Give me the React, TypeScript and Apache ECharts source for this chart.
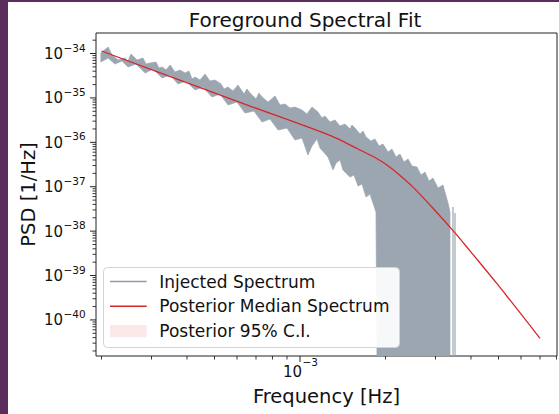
import React, { useEffect, useRef } from "react";
import * as echarts from "echarts";

// ---- axis ranges (Hz, 1/Hz) ----
const xMin = 1.913e-4;
const xMax = 8.035e-3;
const yMin = 1.54e-41;
const yMax = 2.9e-34;

// ---- Injected spectrum: jagged envelope ----
const injectedUpperFreq = [1.99e-4, 2.11e-4, 2.18e-4, 2.287e-4, 2.42e-4, 2.48e-4, 2.54e-4, 2.67e-4, 2.8e-4, 2.869e-4, 2.96e-4, 3.112e-4, 3.188e-4, 3.27e-4, 3.375e-4, 3.49e-4, 3.63e-4, 3.78e-4, 3.936e-4, 4.066e-4, 4.166e-4, 4.27e-4, 4.446e-4, 4.63e-4, 4.822e-4, 5.02e-4, 5.271e-4, 5.401e-4, 5.58e-4, 5.808e-4, 6.05e-4, 6.35e-4, 6.507e-4, 6.67e-4, 7.0e-4, 7.172e-4, 7.35e-4, 7.72e-4, 8.17e-4, 8.504e-4, 8.86e-4, 9.221e-4, 9.6e-4, 1.016e-3, 1.058e-3, 1.102e-3, 1.157e-3, 1.195e-3, 1.225e-3, 1.275e-3, 1.328e-3, 1.383e-3, 1.44e-3, 1.5e-3, 1.524e-3, 1.562e-3, 1.627e-3, 1.667e-3, 1.708e-3, 1.778e-3, 1.836e-3, 1.897e-3, 1.96e-3, 2.041e-3, 2.108e-3, 2.178e-3, 2.249e-3, 2.324e-3, 2.401e-3, 2.48e-3, 2.582e-3, 2.668e-3, 2.755e-3, 2.846e-3, 2.94e-3, 3.061e-3, 3.188e-3, 3.32e-3, 3.374e-3];
const injectedUpperPsd = [1.03e-34, 1.4e-34, 9.25e-35, 7.14e-35, 7.92e-35, 6.78e-35, 9.74e-35, 7.14e-35, 7.92e-35, 5.8e-35, 6.11e-35, 6.44e-35, 4.71e-35, 4.97e-35, 4.25e-35, 5.51e-35, 3.83e-35, 4.25e-35, 3.64e-35, 4.04e-35, 2.67e-35, 2.96e-35, 2.53e-35, 3.45e-35, 2.4e-35, 2.53e-35, 2.06e-35, 1.59e-35, 1.76e-35, 1.43e-35, 1.95e-35, 1.22e-35, 1.59e-35, 1.29e-35, 9.45e-36, 1.29e-35, 1.05e-35, 8.09e-36, 1.1e-35, 6.92e-36, 7.29e-36, 5.92e-36, 6.24e-36, 5.34e-36, 4.34e-36, 6.24e-36, 4.81e-36, 3.53e-36, 3.91e-36, 2.87e-36, 3.18e-36, 2.33e-36, 2.58e-36, 1.99e-36, 2.45e-36, 2.1e-36, 1.54e-36, 1.8e-36, 1.32e-36, 1.07e-36, 1.19e-36, 8.26e-37, 9.16e-37, 6.05e-37, 7.06e-37, 4.67e-37, 5.45e-37, 3.6e-37, 4.21e-37, 2.92e-37, 2.78e-37, 1.83e-37, 2.14e-37, 1.34e-37, 1.57e-37, 9.35e-38, 1.09e-37, 4.3e-38, 2.69e-38];
const injectedLowerFreq = [1.99e-4, 2.11e-4, 2.23e-4, 2.361e-4, 2.48e-4, 2.645e-4, 2.85e-4, 3.037e-4, 3.27e-4, 3.49e-4, 3.72e-4, 3.968e-4, 4.27e-4, 4.555e-4, 4.9e-4, 5.228e-4, 5.58e-4, 6.0e-4, 6.4e-4, 6.887e-4, 7.35e-4, 7.843e-4, 8.37e-4, 9.0e-4, 9.6e-4, 1.016e-3, 1.067e-3, 1.102e-3, 1.148e-3, 1.176e-3, 1.255e-3, 1.307e-3, 1.339e-3, 1.383e-3, 1.417e-3, 1.5e-3, 1.549e-3, 1.601e-3, 1.653e-3, 1.708e-3, 1.764e-3, 1.807e-3, 1.852e-3];
const injectedLowerPsd = [6.44e-35, 7.92e-35, 5.8e-35, 6.78e-35, 4.97e-35, 5.8e-35, 3.64e-35, 4.48e-35, 2.81e-35, 3.28e-35, 2.06e-35, 2.4e-35, 1.51e-35, 1.76e-35, 1.05e-35, 1.22e-35, 6.92e-36, 8.09e-36, 4.57e-36, 5.07e-36, 2.87e-36, 3.35e-36, 1.89e-36, 2.1e-36, 1.13e-36, 1.25e-36, 5.18e-37, 8.26e-37, 1.19e-36, 7.44e-37, 4.67e-37, 2.38e-37, 3.42e-37, 4.0e-37, 2.38e-37, 1.65e-37, 1.83e-37, 1.04e-37, 1.15e-37, 5.86e-38, 6.85e-38, 4.3e-38, 2.69e-38];
// frequency where the spectrum starts dropping to (near) zero
const injectedFloorStartFreq = 1.867e-3;
// isolated thin spikes reaching the bottom
const injectedDropFreq = [3.457e-3, 3.514e-3];
const injectedDropPsd = [3.49e-38, 2.56e-38];

// ---- Posterior median spectrum ----
const medianFreq = [2.0e-4, 4.45e-4, 6.67e-4, 1.0e-3, 1.328e-3, 1.601e-3, 1.836e-3, 2.024e-3, 2.249e-3, 2.48e-3, 2.94e-3, 3.514e-3, 3.968e-3, 4.94e-3, 7.0e-3];
const medianPsd = [1.14e-34, 1.71e-35, 6.57e-36, 2.58e-36, 1.28e-36, 7.06e-37, 4.55e-37, 3.08e-37, 1.8e-37, 1.03e-37, 3.28e-38, 9.16e-39, 3.6e-39, 6.54e-40, 3.85e-41];

// ---- ticks ----
const xMajorTicks = [1e-3];
const xMajorLabels = ["\u22123"];
const yMajorTicks = [1e-34, 1e-35, 1e-36, 1e-37, 1e-38, 1e-39, 1e-40];
const yMajorLabels = ["\u221234", "\u221235", "\u221236", "\u221237", "\u221238", "\u221239", "\u221240"];
const minorMultipliers = [2, 3, 4, 5, 6, 7, 8, 9];
const xDecades = [-4, -3];
const yDecades = [-41, -40, -39, -38, -37, -36, -35, -34];

// ---- texts ----
const titleText = "Foreground Spectral Fit";
const xAxisTitle = "Frequency [Hz]";
const yAxisTitle = "PSD [1/Hz]";
const legendNames = ["Injected Spectrum", "Posterior Median Spectrum", "Posterior 95% C.I."];

const GRAY = "#9ba6b1";
const RED = "#d62728";
const CI_PINK = "#fbe8e9";
const FONT = '"DejaVu Sans", Verdana, sans-serif';

export default function App() {
  const ref = useRef<HTMLDivElement>(null);

  useEffect(() => {
    if (!ref.current) return;
    const chart = echarts.init(ref.current, undefined, { renderer: "svg" });

    const gridLeft = 96, gridTop = 33, gridW = 461, gridH = 323;

    chart.setOption({
      animation: false,
      backgroundColor: "#ffffff",
      grid: {
        left: gridLeft, top: gridTop, width: gridW, height: gridH,
        show: true, borderColor: "#222222", borderWidth: 1, backgroundColor: "transparent",
      },
      xAxis: {
        type: "log", logBase: 10, min: xMin, max: xMax,
        axisLine: { show: false }, axisTick: { show: false },
        axisLabel: { show: false }, splitLine: { show: false },
      },
      yAxis: {
        type: "log", logBase: 10, min: yMin, max: yMax,
        axisLine: { show: false }, axisTick: { show: false },
        axisLabel: { show: false }, splitLine: { show: false },
      },
      series: [
        {
          name: legendNames[0],
          type: "custom",
          clip: true,
          z: 1,
          data: [[injectedUpperFreq[0], injectedUpperPsd[0]]],
          encode: { x: 0, y: 1 },
          renderItem: (params: any, api: any) => {
            if (params.dataIndex !== 0) return null;
            const pts: number[][] = [];
            for (let i = 0; i < injectedUpperFreq.length; i++) {
              pts.push(api.coord([injectedUpperFreq[i], injectedUpperPsd[i]]));
            }
            pts.push(api.coord([injectedUpperFreq[injectedUpperFreq.length - 1], yMin]));
            pts.push(api.coord([injectedFloorStartFreq, yMin]));
            for (let i = injectedLowerFreq.length - 1; i >= 0; i--) {
              pts.push(api.coord([injectedLowerFreq[i], injectedLowerPsd[i]]));
            }
            const children: any[] = [
              {
                type: "polygon",
                shape: { points: pts },
                style: { fill: GRAY, stroke: GRAY, lineWidth: 0.7, lineJoin: "miter", miterLimit: 4 },
              },
            ];
            for (let i = 0; i < injectedDropFreq.length; i++) {
              const a = api.coord([injectedDropFreq[i], injectedDropPsd[i]]);
              const b = api.coord([injectedDropFreq[i], yMin]);
              children.push({
                type: "line",
                shape: { x1: a[0], y1: a[1], x2: b[0], y2: b[1] },
                style: { stroke: GRAY, lineWidth: 1.2 },
              });
            }
            return { type: "group", children };
          },
        },
        {
          name: legendNames[1],
          type: "line",
          z: 3,
          data: medianFreq.map((f, i) => [f, medianPsd[i]]),
          symbol: "none",
          smooth: 0.35,
          lineStyle: { color: RED, width: 1.3 },
        },
      ],
    });

    const px = (v: number) => chart.convertToPixel({ xAxisIndex: 0 }, v) as number;
    const py = (v: number) => chart.convertToPixel({ yAxisIndex: 0 }, v) as number;
    const bottom = gridTop + gridH;

    const g: any[] = [];
    // purple frame strips
    g.push({ type: "rect", shape: { x: 0, y: 0, width: 8, height: 414 }, style: { fill: "#5a2d5d" }, z: 200 });
    g.push({ type: "rect", shape: { x: 0, y: 0, width: 559, height: 2 }, style: { fill: "#5a2d5d" }, z: 200 });

    // x ticks
    xDecades.forEach((d) => {
      minorMultipliers.forEach((m) => {
        const v = m * Math.pow(10, d);
        if (v < xMin || v > xMax) return;
        const x = px(v);
        g.push({ type: "line", shape: { x1: x, y1: bottom, x2: x, y2: bottom + 3.5 }, style: { stroke: "#222", lineWidth: 0.9 } });
      });
    });
    xMajorTicks.forEach((v, i) => {
      const x = px(v);
      g.push({ type: "line", shape: { x1: x, y1: bottom, x2: x, y2: bottom + 6 }, style: { stroke: "#222", lineWidth: 1 } });
      g.push({ type: "text", x: x + 2, y: 371.5, style: { text: "10", font: `15px ${FONT}`, fill: "#111", align: "right", verticalAlign: "middle" } });
      g.push({ type: "text", x: x + 2.5, y: 362, style: { text: xMajorLabels[i], font: `10.5px ${FONT}`, fill: "#111", align: "left", verticalAlign: "middle" } });
    });
    // y ticks
    yDecades.forEach((d) => {
      minorMultipliers.forEach((m) => {
        const v = m * Math.pow(10, d);
        if (v < yMin || v > yMax) return;
        const y = py(v);
        g.push({ type: "line", shape: { x1: gridLeft - 3.5, y1: y, x2: gridLeft, y2: y }, style: { stroke: "#222", lineWidth: 0.9 } });
      });
    });
    yMajorTicks.forEach((v, i) => {
      const y = py(v);
      g.push({ type: "line", shape: { x1: gridLeft - 6, y1: y, x2: gridLeft, y2: y }, style: { stroke: "#222", lineWidth: 1 } });
      g.push({ type: "text", x: 63, y: y + 0.5, style: { text: "10", font: `15px ${FONT}`, fill: "#111", align: "right", verticalAlign: "middle" } });
      g.push({ type: "text", x: 63.5, y: y - 6, style: { text: yMajorLabels[i], font: `10.5px ${FONT}`, fill: "#111", align: "left", verticalAlign: "middle" } });
    });

    // titles
    g.push({ type: "text", x: 305, y: 19.5, style: { text: titleText, font: `20px ${FONT}`, fill: "#111", align: "center", verticalAlign: "middle" } });
    g.push({ type: "text", x: gridLeft + gridW / 2, y: 396, style: { text: xAxisTitle, font: `19.5px ${FONT}`, fill: "#111", align: "center", verticalAlign: "middle" } });
    g.push({ type: "text", x: 28, y: gridTop + gridH / 2, rotation: Math.PI / 2, style: { text: yAxisTitle, font: `19.5px ${FONT}`, fill: "#111", align: "center", verticalAlign: "middle" } });

    // legend
    const lz = 100;
    g.push({ type: "rect", z: lz, shape: { x: 103.5, y: 267.5, width: 296, height: 80, r: 4 }, style: { fill: "rgba(255,255,255,0.92)", stroke: "#d4d4d4", lineWidth: 1 } });
    const rowsY = [281.5, 306.2, 331.2];
    g.push({ type: "line", z: lz + 1, shape: { x1: 110, y1: rowsY[0], x2: 146.7, y2: rowsY[0] }, style: { stroke: "#8f9bab", lineWidth: 1.6 } });
    g.push({ type: "line", z: lz + 1, shape: { x1: 110, y1: rowsY[1], x2: 146.7, y2: rowsY[1] }, style: { stroke: RED, lineWidth: 1.4 } });
    g.push({ type: "rect", z: lz + 1, shape: { x: 110, y: 325, width: 36.7, height: 12.3 }, style: { fill: CI_PINK } });
    legendNames.forEach((n, i) => {
      g.push({ type: "text", z: lz + 1, x: 159.3, y: rowsY[i], style: { text: n, font: `17px ${FONT}`, fill: "#111", align: "left", verticalAlign: "middle" } });
    });

    chart.setOption({ graphic: g });

    return () => chart.dispose();
  }, []);

  return <div ref={ref} style={{ position: "absolute", left: 0, top: 0, width: 559, height: 414 }} />;
}
